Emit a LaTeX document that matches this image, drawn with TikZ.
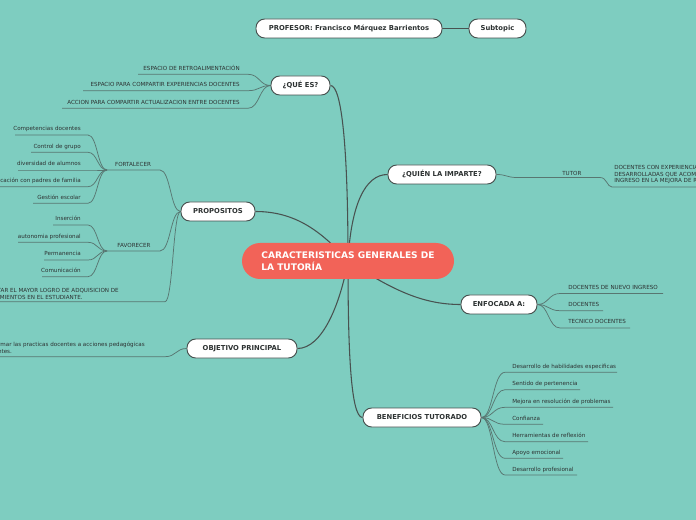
\documentclass[tikz,border=0pt]{standalone}
\usepackage{fontspec}
\setmainfont{DejaVu Sans}
\usepackage{xcolor}
\usepackage{tikz}
\usetikzlibrary{positioning}

\definecolor{mapbg}{RGB}{126,205,192}
\definecolor{rootfill}{RGB}{242,99,88}
\definecolor{branch}{RGB}{72,82,80}
\definecolor{twig}{RGB}{88,118,113}
\definecolor{inktext}{RGB}{45,50,50}

\tikzstyle{root} = [rectangle, fill=rootfill, rounded corners=13.5pt, minimum width=159pt, minimum height=27pt, text=white, align=left, font=\fontsize{6.8}{8.7}\selectfont\bfseries]
\tikzstyle{topic} = [rectangle, draw=branch, line width=0.7pt, fill=white, rounded corners=6.5pt, minimum height=14.25pt, inner sep=0pt, text=inktext, font=\fontsize{5.1}{6}\selectfont\bfseries]
\tikzstyle{leaf} = [inner sep=0pt, text=inktext, font=\fontsize{4.2}{5}\selectfont]
\tikzstyle{line} = [draw=branch, line width=0.8pt]
\tikzstyle{twigline} = [draw=twig, line width=0.55pt]

\pgfdeclarelayer{paper}
\pgfdeclarelayer{lines}
\pgfsetlayers{paper,lines,main}

\begin{document}
\begin{tikzpicture}[x=0.75pt, y=-0.75pt]
\useasboundingbox (0,0) rectangle (696,520);
\begin{pgfonlayer}{paper}
\fill[mapbg] (0,0) rectangle (696,520);
\end{pgfonlayer}

\node[root] (root) at (348,261) {CARACTERISTICAS GENERALES DE\\LA TUTORÍA};

\node[topic, minimum width=139.5pt] (prof) at (349,28.5) {PROFESOR: Francisco Márquez Barrientos};
\node[topic, minimum width=42.75pt] (sub) at (497.5,28.5) {Subtopic};
\node[topic, minimum width=44.25pt] (que) at (300.5,85.5) {¿QUÉ ES?};
\node[topic, minimum width=55.5pt] (prop) at (218,211.5) {PROPOSITOS};
\node[topic, minimum width=81pt] (quien) at (442,174.5) {¿QUIÉN LA IMPARTE?};
\node[topic, minimum width=57pt] (enf) at (499,304.5) {ENFOCADA A:};
\node[topic, minimum width=82.5pt] (obj) at (242,348.5) {OBJETIVO PRINCIPAL};
\node[topic, minimum width=88.5pt] (ben) at (422,417.5) {BENEFICIOS TUTORADO};

% main branches
\begin{pgfonlayer}{lines}
\path[line] (prof) -- (sub);
\path[line] (root.center) .. controls (348,150) and (342,85.5) .. (que.east);
\path[line] (root.center) .. controls (322,232) and (296,211.5) .. (prop.east);
\path[line] (root.center) .. controls (351,205) and (365,174.5) .. (quien.west);
\path[line] (root.center) .. controls (395,292) and (425,304.5) .. (enf.west);
\path[line] (root.center) .. controls (340,305) and (322,348.5) .. (obj.east);
\path[line] (root.center) .. controls (348,340) and (350,417.5) .. (ben.west);
\end{pgfonlayer}

% que es
\foreach \txt/\y/\x [count=\i] in {ESPACIO DE RETROALIMENTACIÓN/74.3/138, ESPACIO PARA COMPARTIR EXPERIENCIAS DOCENTES/90.7/83, ACCION PARA COMPARTIR ACTUALIZACION ENTRE DOCENTES/108.3/62}{
  \coordinate (quel\i) at (\x,\y);
  \coordinate (quer\i) at (248,\y);
  \node[leaf, anchor=base east] (quet\i) at (240,\y-4) {\txt};
  \begin{pgfonlayer}{lines}
  \path[twigline] (quel\i) -- (quer\i) .. controls (259.5,\y) and (259.5,85.5) .. (que.west);
  \end{pgfonlayer}
}

% propositos
\coordinate (fortl) at (107,170);
\coordinate (fortr) at (160,170);
\node[leaf, anchor=base] (fort) at (133,166.5) {FORTALECER};
\coordinate (favl) at (107,251);
\coordinate (favr) at (160,251);
\node[leaf, anchor=base] (fav) at (134,247.5) {FAVORECER};
\coordinate (fomel) at (-5,301.7);
\coordinate (fomer) at (165,301.7);
\node[leaf, anchor=south east, align=left] (fome) at (119,299.5) {FOMENTAR EL MAYOR LOGRO DE ADQUISICION DE\\CONOCIMIENTOS EN EL ESTUDIANTE.};
\begin{pgfonlayer}{lines}
\path[twigline] (fortl) -- (fortr) .. controls (170.5,170) and (170.5,211.5) .. (prop.west);
\path[twigline] (favl) -- (favr) .. controls (170.5,251) and (170.5,211.5) .. (prop.west);
\path[twigline] (fomel) -- (fomer) .. controls (173,301.7) and (173,211.5) .. (prop.west);
\end{pgfonlayer}

\foreach \txt/\y/\x [count=\i] in {Competencias docentes/135/15, Control de grupo/152.3/31, diversidad de alumnos/170/18, Comunicación con padres de familia/186.7/-5, Gestión escolar/203.3/33}{
  \coordinate (fortl\i) at (\x,\y);
  \coordinate (fortr\i) at (88,\y);
  \node[leaf, anchor=base east] (fortt\i) at (81,\y-4) {\txt};
  \begin{pgfonlayer}{lines}
  \path[twigline] (fortl\i) -- (fortr\i) .. controls (97.5,\y) and (97.5,170) .. (fortl);
  \end{pgfonlayer}
}

\foreach \txt/\y/\x [count=\i] in {Inserción/225/53, autonomia profesional/242.3/18, Permanencia/260/44, Comunicación/276.7/42}{
  \coordinate (favl\i) at (\x,\y);
  \coordinate (favr\i) at (88,\y);
  \node[leaf, anchor=base east] (favt\i) at (81,\y-4) {\txt};
  \begin{pgfonlayer}{lines}
  \path[twigline] (favl\i) -- (favr\i) .. controls (97.5,\y) and (97.5,251) .. (favl);
  \end{pgfonlayer}
}

% objetivo
\coordinate (transl) at (-5,356.7);
\coordinate (transr) at (165,356.7);
\node[leaf, anchor=south east, align=left] (trans) at (145,354.5) {Transformar las practicas docentes a acciones pedagógicas\\pertinentes.};
\begin{pgfonlayer}{lines}
\path[twigline] (transl) -- (transr) .. controls (176,356.7) and (176,348.5) .. (obj.west);
\end{pgfonlayer}

% quien la imparte
\coordinate (tutl) at (517,177.5);
\coordinate (tutr) at (600,177.5);
\node[leaf, anchor=base west] (tut) at (562,175.5) {TUTOR};
\coordinate (descl) at (612,187);
\coordinate (descr) at (700,187);
\node[leaf, anchor=north west, align=left, font=\fontsize{4.2}{4.6}\selectfont] (desc) at (614,165.5) {DOCENTES CON EXPERIENCIA Y CAPACIDADES\\DESARROLLADAS QUE ACOMPAÑAN AL PERSONAL DE NUEVO\\INGRESO EN LA MEJORA DE RESULTADOS};
\begin{pgfonlayer}{lines}
\path[twigline] (quien.east) .. controls (506.5,174.5) and (506.5,177.5) .. (tutl) -- (tutr) .. controls (607,177.5) and (607,187) .. (descl) -- (descr);
\end{pgfonlayer}

% enfocada a
\foreach \txt/\y/\x [count=\i] in {DOCENTES DE NUEVO INGRESO/293.5/663, DOCENTES/310.7/603, TECNICO DOCENTES/328/630}{
  \coordinate (enfl\i) at (560,\y);
  \coordinate (enfr\i) at (\x,\y);
  \node[leaf, anchor=base west] (enft\i) at (568,\y-4) {\txt};
  \begin{pgfonlayer}{lines}
  \path[twigline] (enf.east) .. controls (548.5,304.5) and (548.5,\y) .. (enfl\i) -- (enfr\i);
  \end{pgfonlayer}
}

% beneficios
\foreach \txt/\y/\x [count=\i] in {Desarrollo de habilidades especificas/372.3/617, Sentido de pertenencia/389.7/580, Mejora en resolución de problemas/407.3/613, Confianza/424.3/543, Herramientas de reflexión/441.7/588, Apoyo emocional/458.3/563, Desarrollo profesional/475/577}{
  \coordinate (benl\i) at (505,\y);
  \coordinate (benr\i) at (\x,\y);
  \node[leaf, anchor=base west] (bent\i) at (512,\y-4) {\txt};
  \begin{pgfonlayer}{lines}
  \path[twigline] (ben.east) .. controls (493,417.5) and (493,\y) .. (benl\i) -- (benr\i);
  \end{pgfonlayer}
}
\end{tikzpicture}
\end{document}
